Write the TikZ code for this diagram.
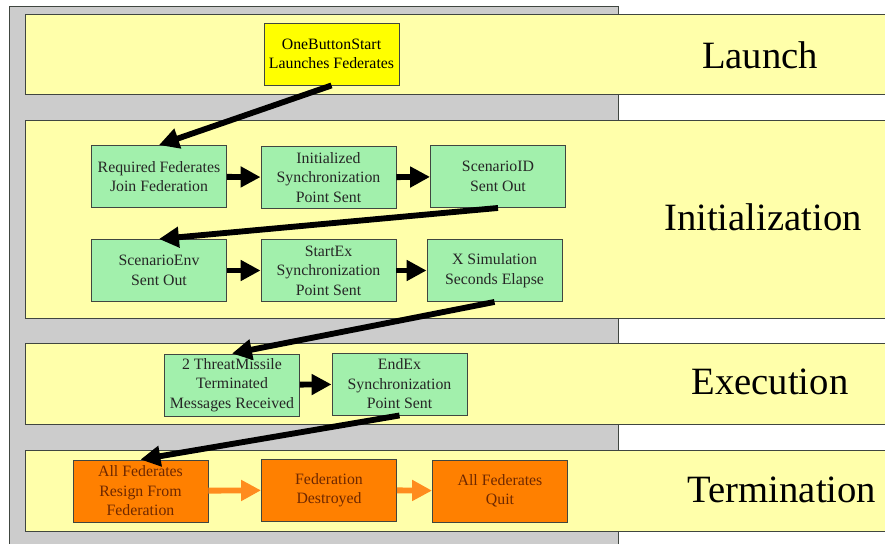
\documentclass[tikz,border=0pt]{standalone}
\usepackage{fontspec}
\setmainfont{Liberation Serif}
\usetikzlibrary{arrows.meta}
\definecolor{panelgray}{RGB}{204,204,204}
\definecolor{bandyellow}{RGB}{255,255,170}
\definecolor{stepgreen}{RGB}{162,240,172}
\definecolor{startyellow}{RGB}{255,255,0}
\definecolor{termorange}{RGB}{255,128,0}
\definecolor{arroworange}{RGB}{255,140,30}
\definecolor{termtext}{RGB}{110,40,0}
\definecolor{edgegray}{RGB}{64,70,64}

\begin{document}
\begin{tikzpicture}[x=0.03cm,y=-0.03cm,
    band/.style={draw=edgegray, fill=bandyellow, line width=0.8pt},
    phase/.style={font=\fontsize{33}{36}\selectfont},
    box/.style={draw=edgegray, line width=0.8pt, minimum width=4.05cm,
        minimum height=1.86cm, inner sep=1pt, align=center,
        font=\fontsize{13.5}{16.6}\selectfont},
    greenbox/.style={box, fill=stepgreen, text=black!85},
    orangebox/.style={box, fill=termorange, text=termtext},
    flow/.style={line width=5pt, -{Triangle[length=17pt,width=17pt]}},
    orangeflow/.style={flow, draw=arroworange, fill=arroworange}]
        \clip (0,0) rectangle (885,544);
        % background panel and phase bands
        \draw[draw=edgegray, fill=panelgray, line width=0.8pt] (9,6) rectangle (618,560);
        \draw[band] (25,14) rectangle (900,94);
        \draw[band] (25,120) rectangle (900,318);
        \draw[band] (25,343) rectangle (900,424);
        \draw[band] (25,450) rectangle (900,531);

        \node[phase] (launch) at (760,55) {Launch};
        \node[phase] (initialization) at (763,217) {Initialization};
        \node[phase] (execution) at (770,382) {Execution};
        \node[phase] (termination) at (782,490) {Termination};

        \node[box, fill=startyellow] (start) at (331.5,54) {OneButtonStart\\Launches Federates};

        \node[greenbox] (join) at (159,176.5) {Required Federates\\Join Federation};
        \node[greenbox] (initsync) at (328.5,177.5) {Initialized\\Synchronization\\Point Sent};
        \node[greenbox] (scenid) at (498,176.5) {ScenarioID\\Sent Out};
        \node[greenbox] (scenenv) at (159,270.5) {ScenarioEnv\\Sent Out};
        \node[greenbox] (startex) at (328.5,270.5) {StartEx\\Synchronization\\Point Sent};
        \node[greenbox] (simsec) at (494.5,270.5) {X Simulation\\Seconds Elapse};

        \node[greenbox] (threat) at (232,385) {2 ThreatMissile\\Terminated\\Messages Received};
        \node[greenbox] (endex) at (399.5,384) {EndEx\\Synchronization\\Point Sent};

        \node[orangebox] (resign) at (140.5,491) {All Federates\\Resign From\\Federation};
        \node[orangebox] (destroyed) at (329,490) {Federation\\Destroyed};
        \node[orangebox] (quit) at (500,491) {All Federates\\Quit};

        \draw[flow] (start.south) -- (join.north);
        \draw[flow] (join) -- (initsync);
        \draw[flow] (initsync) -- (scenid);
        \draw[flow] (scenid.south) -- (scenenv.north);
        \draw[flow] (scenenv) -- (startex);
        \draw[flow] (startex) -- (simsec);
        \draw[flow] (simsec.south) -- (threat.north);
        \draw[flow] (threat) -- (endex);
        \draw[flow] (endex.south) -- (resign.north);
        \draw[orangeflow] (resign) -- (destroyed);
        \draw[orangeflow] (destroyed) -- (quit);
\end{tikzpicture}
\end{document}
